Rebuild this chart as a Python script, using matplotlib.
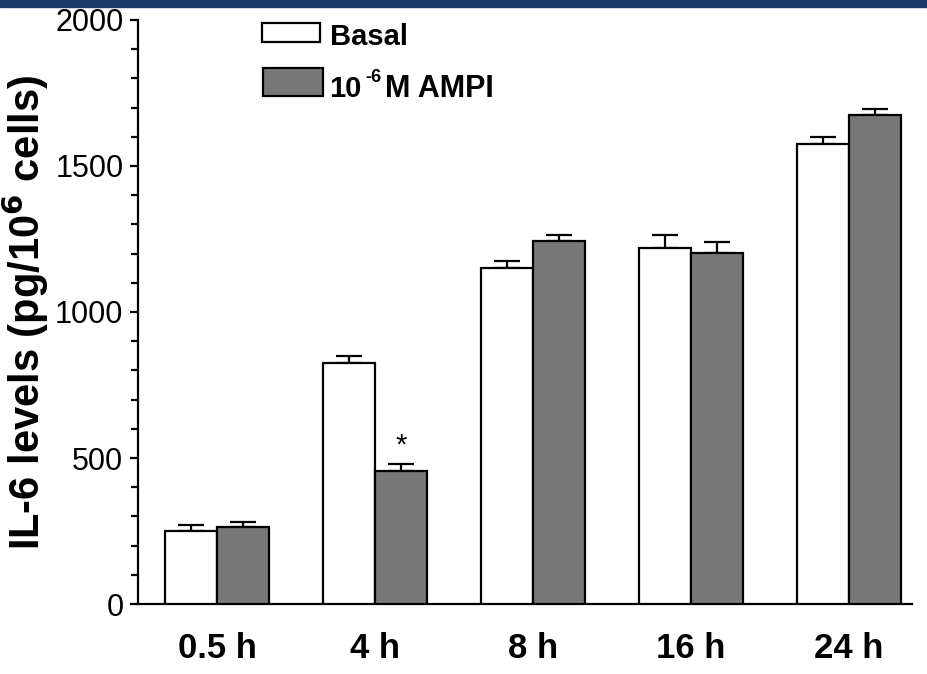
import numpy as np
import matplotlib
matplotlib.use("Agg")
import matplotlib.pyplot as plt
from matplotlib.patches import Rectangle
from matplotlib.ticker import MultipleLocator

# --- Data --------------------------------------------------------------------
times = ["0.5 h", "4 h", "8 h", "16 h", "24 h"]
basal = [250, 827, 1152, 1220, 1576]
basal_err = [20, 24, 24, 42, 24]
ampi = [263, 455, 1244, 1203, 1675]
ampi_err = [17, 24, 18, 38, 21]
star_group = 1  # significant difference at 4 h

# --- Style -------------------------------------------------------------------
GRAY = "#787878"
BAND = "#1b3966"
BAR_W = 0.33
LW = 1.6
W, H = 928, 674

plt.rcParams["font.family"] = ["Liberation Sans", "DejaVu Sans"]

fig = plt.figure(figsize=(W / 100, H / 100), dpi=100)
fig.patches.append(Rectangle((0, 1 - 7 / H), 1, 7 / H, transform=fig.transFigure,
                             color=BAND, zorder=0))

ax = fig.add_axes([138 / W, 70 / H, 774 / W, 584 / H])
x = np.arange(len(times))

ax.bar(x - BAR_W / 2, basal, BAR_W, color="white", edgecolor="black",
       linewidth=LW, zorder=3)
ax.bar(x + BAR_W / 2, ampi, BAR_W, color=GRAY, edgecolor="black",
       linewidth=LW, zorder=3)
ax.errorbar(x - BAR_W / 2, basal, yerr=[np.zeros(len(basal)), basal_err],
            fmt="none", ecolor="black", elinewidth=LW, capsize=9.5,
            capthick=LW, zorder=2)
ax.errorbar(x + BAR_W / 2, ampi, yerr=[np.zeros(len(ampi)), ampi_err],
            fmt="none", ecolor="black", elinewidth=LW, capsize=9.5,
            capthick=LW, zorder=2)

ax.annotate("*", xy=(star_group + BAR_W / 2, ampi[star_group] + ampi_err[star_group]),
            textcoords="offset points", xytext=(0, 3), ha="center", va="bottom",
            fontsize=21)

ax.set_xlim(-0.5, 4.4)
ax.set_ylim(0, 2000)
ax.set_xticks(x)
ax.set_xticklabels(times, fontsize=25, fontweight="bold")
ax.tick_params(axis="x", length=0, pad=20)
ax.yaxis.set_major_locator(MultipleLocator(500))
ax.yaxis.set_minor_locator(MultipleLocator(100))
ax.tick_params(axis="y", which="major", length=5.5, width=LW, labelsize=22, pad=5)
ax.tick_params(axis="y", which="minor", length=5, width=LW)
ax.set_ylabel("IL-6 levels (pg/10$^\\mathbf{6}$ cells)", fontsize=30,
              fontweight="bold", labelpad=3)

for side in ("top", "right"):
    ax.spines[side].set_visible(False)
for side in ("left", "bottom"):
    ax.spines[side].set_linewidth(LW)

# Legend drawn by hand to match the boxes
ax.add_patch(Rectangle((262 / W, 1 - 42 / H), 58 / W, 19 / H,
                       transform=fig.transFigure, facecolor="white",
                       edgecolor="black", linewidth=LW, clip_on=False))
ax.add_patch(Rectangle((263 / W, 1 - 96 / H), 60 / W, 28 / H,
                       transform=fig.transFigure, facecolor=GRAY,
                       edgecolor="black", linewidth=LW, clip_on=False))
fig.text(330 / W, 1 - 45 / H, "Basal", fontsize=21, fontweight="bold",
         va="baseline", ha="left")
fig.text(329 / W, 1 - 97 / H, "10", fontsize=21, fontweight="bold",
         va="baseline", ha="left")
fig.text(365 / W, 1 - 82 / H, "-6", fontsize=13, fontweight="bold",
         va="baseline", ha="left")
fig.text(385 / W, 1 - 97 / H, "M AMPI", fontsize=22, fontweight="bold",
         va="baseline", ha="left")

fig.savefig("out.png", dpi=100, facecolor="white")
